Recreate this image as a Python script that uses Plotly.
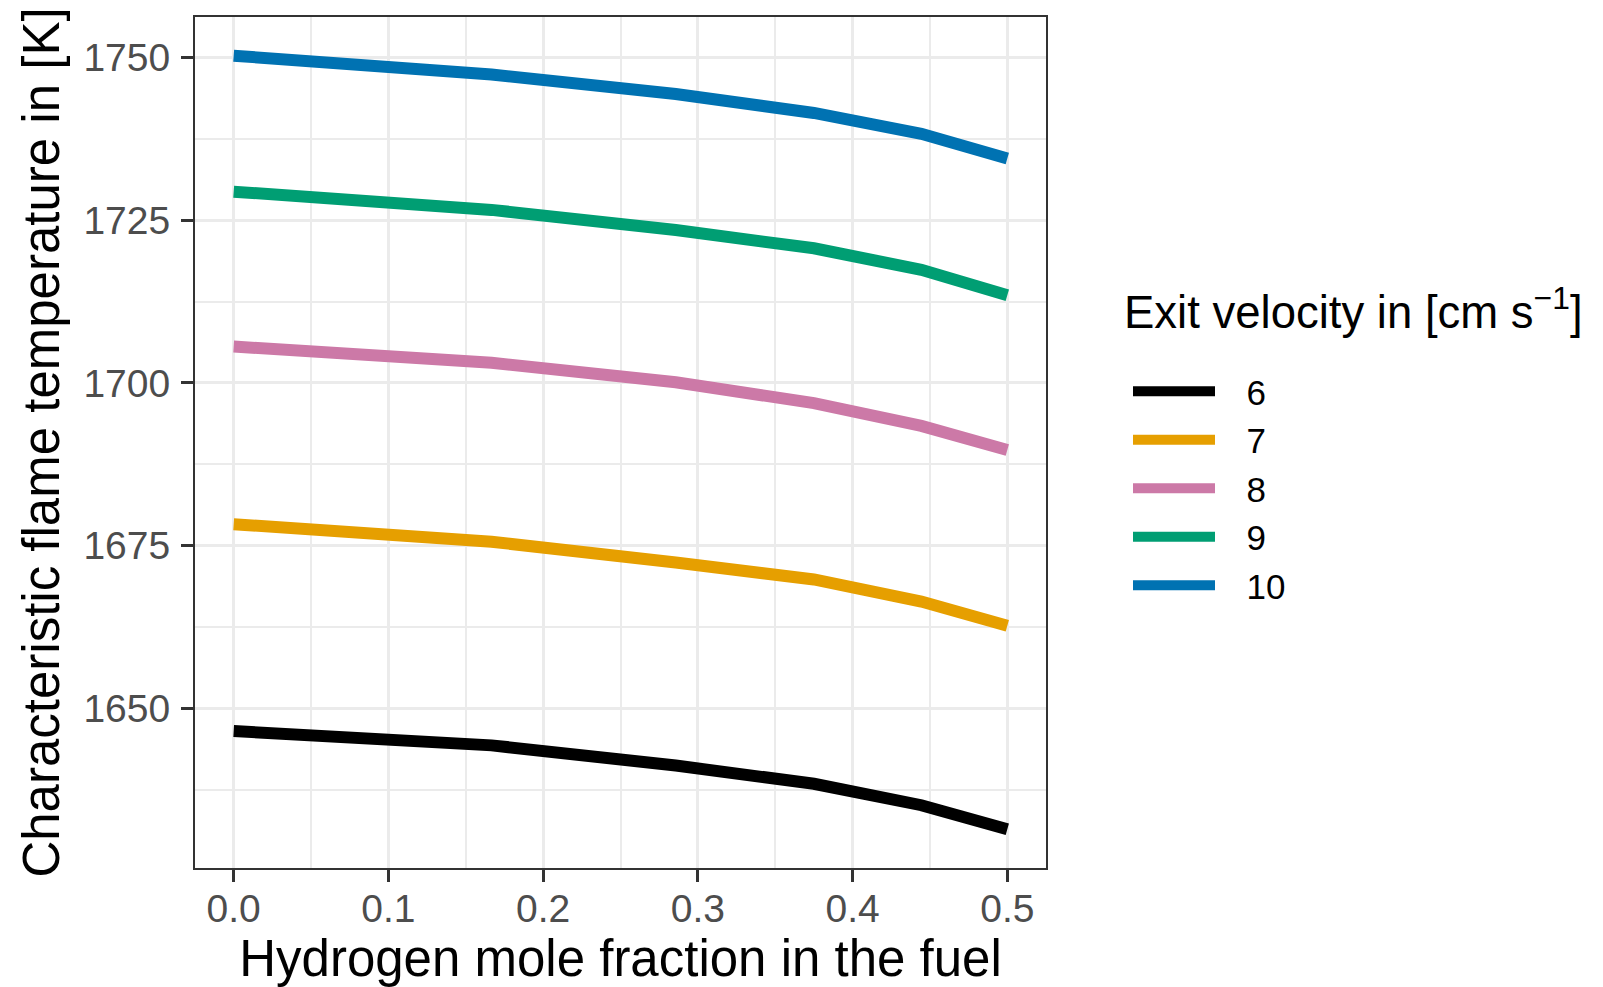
import plotly.graph_objects as go

# Hydrogen mole fraction in the fuel
h2_fraction = [0.0, 1/6, 2/7, 3/8, 4/9, 0.5]

# Exit velocity categories [cm/s]
velocities = ["6", "7", "8", "9", "10"]

# Characteristic flame temperature [K] per exit velocity
temp_v6 = [1646.5, 1644.3, 1641.2, 1638.4, 1635.1, 1631.4]
temp_v7 = [1678.3, 1675.6, 1672.4, 1669.8, 1666.4, 1662.7]
temp_v8 = [1705.6, 1703.1, 1700.1, 1696.9, 1693.4, 1689.7]
temp_v9 = [1729.4, 1726.6, 1723.5, 1720.7, 1717.4, 1713.5]
temp_v10 = [1750.3, 1747.4, 1744.4, 1741.5, 1738.3, 1734.5]

series = [temp_v6, temp_v7, temp_v8, temp_v9, temp_v10]
colors = ["#000000", "#E69F00", "#CC79A7", "#009E73", "#0072B2"]

x_ticks = [0.0, 0.1, 0.2, 0.3, 0.4, 0.5]
y_ticks = [1650, 1675, 1700, 1725, 1750]

FONT = "Liberation Sans, Arial, sans-serif"
PAD = "\u00a0\u00a0\u2009"  # gap between legend key and label

fig = go.Figure()
for name, ys, col in zip(velocities, series, colors):
    fig.add_trace(go.Scatter(
        x=h2_fraction, y=ys, mode="lines", name=PAD + name,
        line=dict(color=col, width=12),
    ))

# ggplot-like 5% expansion
xmin, xmax = min(h2_fraction), max(h2_fraction)
xpad = (xmax - xmin) * 0.05
all_y = [v for s in series for v in s]
ymin, ymax = min(all_y), max(all_y)
ypad = (ymax - ymin) * 0.05

W, H = 1603, 987
ML, MR, MT, MB = 195, 557, 17, 119
PW, PH = W - ML - MR, H - MT - MB

fig.update_layout(
    width=W, height=H,
    margin=dict(l=ML, r=MR, t=MT, b=MB, autoexpand=False),
    paper_bgcolor="white", plot_bgcolor="white",
    font=dict(family=FONT, color="black"),
    showlegend=True,
    legend=dict(
        x=(1128 - ML) / PW, y=1 - (362 - MT) / PH,
        xanchor="left", yanchor="top",
        font=dict(size=35, color="black", family=FONT),
        itemwidth=82, bgcolor="rgba(0,0,0,0)", borderwidth=0,
        tracegroupgap=0,
    ),
    annotations=[dict(
        text="Exit velocity in [cm s<sup>−1</sup>]",
        xref="paper", yref="paper",
        x=(1122 - ML) / PW, y=1 - (309 - MT) / PH,
        xanchor="left", yanchor="middle", showarrow=False,
        font=dict(size=45.5, color="black", family=FONT),
    )],
)

fig.update_xaxes(
    range=[xmin - xpad, xmax + xpad],
    tickvals=x_ticks, ticktext=[f"{v:.1f}" for v in x_ticks],
    ticks="outside", ticklen=12, tickwidth=3, tickcolor="#333333",
    tickfont=dict(size=39, color="#4D4D4D", family=FONT),
    ticklabelstandoff=-7,
    showgrid=True, gridcolor="#EBEBEB", gridwidth=3,
    minor=dict(dtick=0.05, tick0=0, showgrid=True, gridcolor="#EBEBEB", gridwidth=1.6, ticks=""),
    showline=True, linecolor="#333333", linewidth=2, mirror=True,
    zeroline=False,
    title=dict(text="Hydrogen mole fraction in the fuel",
               font=dict(size=51, color="black", family=FONT), standoff=27),
)
fig.update_yaxes(
    range=[ymin - ypad, ymax + ypad],
    tickvals=y_ticks, ticktext=[str(v) for v in y_ticks],
    ticks="outside", ticklen=12, tickwidth=3, tickcolor="#333333",
    tickfont=dict(size=39, color="#4D4D4D", family=FONT),
    ticklabelstandoff=3,
    showgrid=True, gridcolor="#EBEBEB", gridwidth=3,
    minor=dict(dtick=12.5, tick0=1650, showgrid=True, gridcolor="#EBEBEB", gridwidth=1.6, ticks=""),
    showline=True, linecolor="#333333", linewidth=2, mirror=True,
    zeroline=False,
    title=dict(text="Characteristic flame temperature in [K]",
               font=dict(size=51, color="black", family=FONT), standoff=8),
)

fig.write_html("out.html")
